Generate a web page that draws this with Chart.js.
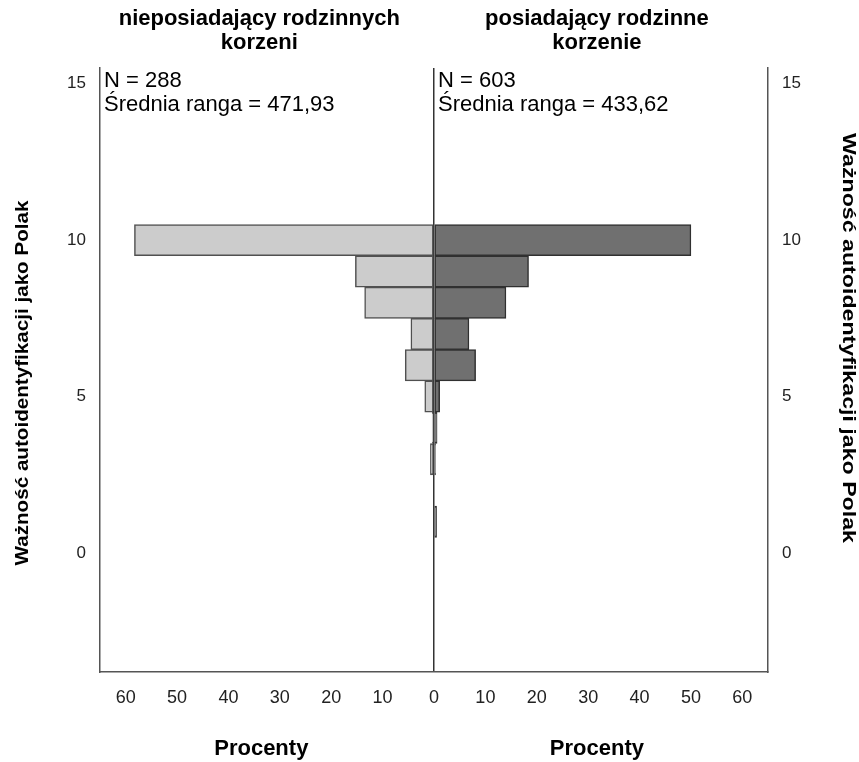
<!DOCTYPE html>
<html>
<head>
<meta charset="utf-8">
<script src="https://cdn.jsdelivr.net/npm/chart.js@4.4.1/dist/chart.umd.min.js"></script>
<style>
  html, body { margin: 0; padding: 0; background: #ffffff; }
  #wrap { width: 859px; height: 762px; position: relative; }
</style>
</head>
<body>
<div id="wrap"><canvas id="c" width="859" height="762"></canvas></div>
<script>
// ---- data ----
const categories = [1, 2, 3, 4, 5, 6, 7, 8, 9, 10];
const leftValues = [0, 0, 0.7, 0.35, 1.8, 5.6, 4.5, 13.5, 15.3, 58.3];   // nieposiadający rodzinnych korzeni (%)
const rightValues = [0.5, 0, 0.3, 0.6, 1.1, 8.1, 6.8, 14.0, 18.4, 50.0]; // posiadający rodzinne korzenie (%)
const xTickValues = [-60, -50, -40, -30, -20, -10, 0, 10, 20, 30, 40, 50, 60];
const yTickValues = [0, 5, 10, 15];
const leftTitle = ['nieposiadający rodzinnych', 'korzeni'];
const rightTitle = ['posiadający rodzinne', 'korzenie'];
const leftStats = ['N = 288', 'Średnia ranga = 471,93'];
const rightStats = ['N = 603', 'Średnia ranga = 433,62'];
const xTitle = 'Procenty';
const yTitle = 'Ważność autoidentyfikacji jako Polak';

const FONT = '"Liberation Sans", Arial, sans-serif';

function fitText(ctx, text, x, y, rot, len) {
  ctx.save();
  ctx.translate(x, y);
  ctx.rotate(rot);
  const w = ctx.measureText(text).width;
  ctx.scale(len / w, 1);
  ctx.fillText(text, 0, 0);
  ctx.restore();
}

const textPlugin = {
  id: 'texts',
  afterDraw(chart) {
    const ctx = chart.ctx;
    const xs = chart.scales.x;
    const leftC = xs.getPixelForValue(-34);
    const rightC = xs.getPixelForValue(31.7);
    ctx.save();
    ctx.fillStyle = '#000';
    ctx.textBaseline = 'middle';
    // panel titles
    ctx.font = 'bold 22px ' + FONT;
    ctx.textAlign = 'center';
    leftTitle.forEach((t, i) => ctx.fillText(t, leftC, 19 + i * 24));
    rightTitle.forEach((t, i) => ctx.fillText(t, rightC, 19 + i * 24));
    // stats
    ctx.font = '22px ' + FONT;
    ctx.textAlign = 'left';
    const ca = chart.chartArea;
    leftStats.forEach((t, i) => ctx.fillText(t, ca.left + 4, 81 + i * 24));
    const zx = xs.getPixelForValue(0);
    rightStats.forEach((t, i) => ctx.fillText(t, zx + 4, 81 + i * 24));
    // x titles
    ctx.font = 'bold 22px ' + FONT;
    ctx.textAlign = 'center';
    ctx.fillText(xTitle, leftC + 2, 749);
    ctx.fillText(xTitle, rightC, 749);
    // y titles
    ctx.font = 'bold 19px ' + FONT;
    fitText(ctx, yTitle, 23, 383, -Math.PI / 2, 365);
    ctx.font = 'bold 19px ' + FONT;
    fitText(ctx, yTitle, 848, 338, Math.PI / 2, 410);
    ctx.restore();
  }
};

const yTickOpts = {
  font: { family: FONT, size: 17 },
  color: '#222',
  padding: 14
};

new Chart(document.getElementById('c'), {
  type: 'bar',
  data: {
    datasets: [
      {
        label: 'nieposiadający rodzinnych korzeni',
        data: categories.map((c, i) => ({ x: -leftValues[i], y: c })),
        backgroundColor: '#cccccc',
        borderColor: '#505050',
        borderWidth: 1.5,
        borderSkipped: false,
        grouped: false,
        barPercentage: 1,
        categoryPercentage: 1
      },
      {
        label: 'posiadający rodzinne korzenie',
        data: categories.map((c, i) => ({ x: rightValues[i], y: c })),
        backgroundColor: '#707070',
        borderColor: '#303030',
        borderWidth: 1.5,
        borderSkipped: false,
        grouped: false,
        barPercentage: 1,
        categoryPercentage: 1
      }
    ]
  },
  options: {
    indexAxis: 'y',
    responsive: false,
    animation: false,
    layout: { padding: { top: 68, left: 0, right: 0, bottom: 0 } },
    plugins: { legend: { display: false }, tooltip: { enabled: false } },
    scales: {
      x: {
        type: 'linear',
        min: -65,
        max: 65,
        offset: false,
        afterBuildTicks: s => { s.ticks = xTickValues.map(v => ({ value: v })); },
        afterFit: s => { s.height = 90; },
        ticks: {
          callback: v => String(Math.abs(v)),
          font: { family: FONT, size: 18 },
          color: '#222',
          padding: 15,
          maxRotation: 0,
          autoSkip: false
        },
        grid: {
          drawTicks: false,
          color: c => (c.tick && c.tick.value === 0 ? '#333333' : 'rgba(0,0,0,0)'),
          lineWidth: 1.5
        },
        border: { display: true, color: '#555555', width: 1.5 }
      },
      y: {
        type: 'linear',
        position: 'left',
        min: -3.8,
        max: 15.5,
        offset: false,
        afterBuildTicks: s => { s.ticks = yTickValues.map(v => ({ value: v })); },
        afterFit: s => { s.width = 100; },
        ticks: yTickOpts,
        grid: { display: false, drawTicks: false },
        border: { display: true, color: '#555555', width: 1.5 }
      },
      y2: {
        type: 'linear',
        position: 'right',
        min: -3.8,
        max: 15.5,
        offset: false,
        afterBuildTicks: s => { s.ticks = yTickValues.map(v => ({ value: v })); },
        afterFit: s => { s.width = 91; },
        ticks: yTickOpts,
        grid: { display: false, drawTicks: false },
        border: { display: true, color: '#555555', width: 1.5 }
      }
    }
  },
  plugins: [textPlugin]
});
</script>
</body>
</html>
